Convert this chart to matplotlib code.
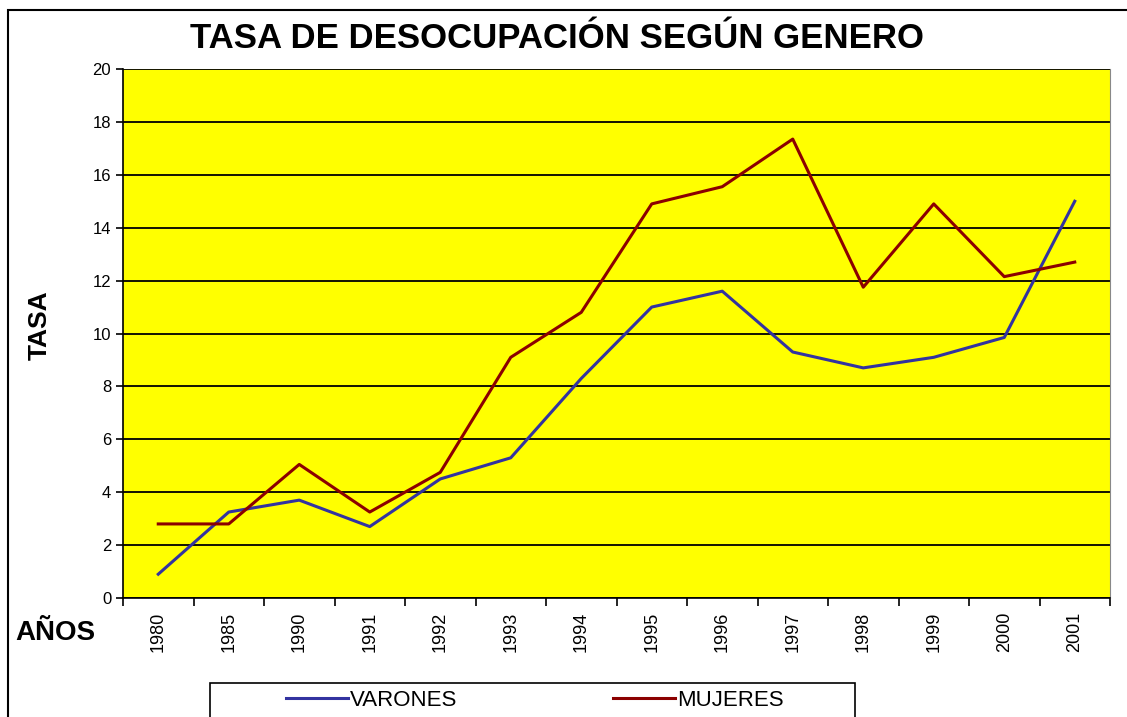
import matplotlib.pyplot as plt
from matplotlib.patches import Rectangle
import numpy as np

# Data
years = ["1980", "1985", "1990", "1991", "1992", "1993", "1994",
         "1995", "1996", "1997", "1998", "1999", "2000", "2001"]
varones = [0.9, 3.25, 3.7, 2.7, 4.5, 5.3, 8.3, 11.0, 11.6, 9.3, 8.7, 9.1, 9.85, 15.0]
mujeres = [2.8, 2.8, 5.05, 3.25, 4.75, 9.1, 10.8, 14.9, 15.55, 17.35, 11.75, 14.9, 12.15, 12.7]

plt.rcParams['font.family'] = ['Liberation Sans', 'DejaVu Sans']

fig = plt.figure(figsize=(11.27, 7.17), dpi=100)
fig.patch.set_facecolor('white')

# outer chart frame
fig.patches.append(Rectangle((8 / 1127, -0.05), 1.2, 1 - 10 / 717 + 0.05,
                             transform=fig.transFigure, fill=False,
                             edgecolor='black', linewidth=1.5))

ax = fig.add_axes([123 / 1127, 1 - 598 / 717, (1110 - 123) / 1127, (598 - 69) / 717])
ax.set_facecolor('#FFFF00')

x = np.arange(len(years))
ax.plot(x, varones, color='#3333A0', linewidth=2.2, label='VARONES')
ax.plot(x, mujeres, color='#8B0000', linewidth=2.2, label='MUJERES')

ax.set_xlim(-0.5, len(years) - 0.5)
ax.set_ylim(0, 20)
ax.set_yticks(range(0, 21, 2))
ax.yaxis.grid(True, color='black', linewidth=1.3)
ax.set_axisbelow(True)

ax.set_xticks(x)
ax.set_xticklabels(years, rotation=90, fontsize=13)
ax.set_xticks(np.arange(-0.5, len(years), 1), minor=True)
ax.tick_params(axis='x', which='major', length=0, pad=10)
ax.tick_params(axis='x', which='minor', length=6, width=1.2)
ax.tick_params(axis='y', length=5, width=1.2, labelsize=12)

ax.spines['top'].set_visible(False)
ax.spines['right'].set_color('#888888')
ax.spines['left'].set_linewidth(1.2)
ax.spines['bottom'].set_linewidth(1.2)

fig.text(557 / 1127, 1 - 38 / 717, 'TASA DE DESOCUPACIÓN SEGÚN GENERO',
         ha='center', va='center', fontsize=25, fontweight='bold')
fig.text(40 / 1127, 1 - 325 / 717, 'TASA', rotation=90, ha='center', va='center',
         fontsize=19, fontweight='bold')
fig.text(55 / 1127, 1 - 633 / 717, 'AÑOS', ha='center', va='center',
         fontsize=20, fontweight='bold')

# legend box (runs off the bottom edge)
fig.patches.append(Rectangle((210 / 1127, -0.05), (855 - 210) / 1127, 0.05 + 1 - 683 / 717,
                             transform=fig.transFigure, fill=False,
                             edgecolor='black', linewidth=1.2))
fig.legend(loc='center', bbox_to_anchor=(535 / 1127, 1 - 700 / 717), ncol=2,
           frameon=False, fontsize=16, handlelength=2.8, handletextpad=0.1,
           columnspacing=7)

fig.savefig('out.png', dpi=100)
